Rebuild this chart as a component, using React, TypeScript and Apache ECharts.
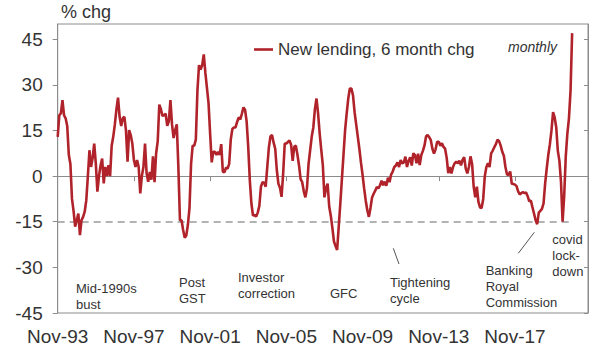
import React, { useEffect, useRef } from 'react';
import * as echarts from 'echarts';

const FONT = '"Liberation Sans", Arial, Helvetica, sans-serif';
const MONTH_NAMES = ['Jan', 'Feb', 'Mar', 'Apr', 'May', 'Jun', 'Jul', 'Aug', 'Sep', 'Oct', 'Nov', 'Dec'];
const START_YEAR = 1993;
const START_MONTH = 10; // Nov
const N_CATEGORIES = 335; // Nov-93 .. Sep-21 (axis extent)

const categories: string[] = Array.from({ length: N_CATEGORIES }, (_, i) => {
  const t = START_MONTH + i;
  const y = START_YEAR + Math.floor(t / 12);
  return MONTH_NAMES[t % 12] + '-' + String(y % 100).padStart(2, '0');
});

// New lending, 6 month % change, monthly from Nov-93
const newLending: number[] = [
  12.9, 20, 20.6, 25, 20, 19, 16.5, 7, 4, -7.5,
  -11.5, -16.6, -14.5, -12.3, -19.4, -14.5, -13.4, -11.7, -8, 0,
  8.5, 3, 6, 10.7, 4.2, -5.1, 0, 3.5, 5.8, -2.4,
  3, 0, 3.6, 0, 10, 13, 17, 22, 25.8, 19.5,
  16.5, 19, 19.5, 15, 4.7, 15.1, 13.5, 10.7, 5.3, 3,
  5.3, 3, -5.7, 0, 3,
  10.7, 0.9, -1.9, 1.4, -1.2, 6.5, -2, 7.5, 11.5, 23.5,
  22, 19.8, 20, 20.5, 16.5, 18, 25, 17, 12.5, 15.1,
  17, 3, -14.5, -14.5, -17.7, -20.3, -19.5, -16, -10.5, 4,
  10, 10, 12, 28, 36.5, 35, 36.5, 40, 34, 29,
  24, 14, 4.5, 8, 8, 7, 8, 7, 10.5, 1.5,
  1.2, 2.8, 2.5, 4, 12, 15.5, 16,
  16, 17.8, 19.3, 18.6, 20.5, 22.6, 21.8, 18, 9.6, -1.3,
  -9, -13, -12.8, -13.3, -12, -9.8, -3.5, -2, -2.2, -3.5,
  3, 9.4, 13, 13.5, 11, 9, 2, -2.5, -3.8, -6.8,
  0.9, 10.7, 10.7, 11.2, 11.7, 10.3, 5, 9.7, 10, 7,
  3.5, -1, -2, -5, -7, -4, 4, 8.5, 13, 16,
  22, 25.5, 20.6, 14, 8.6, 3.5, -7,
  -4, -2.5, -10, -13, -17, -21.5, -23, -24.3, -16.6, -9,
  -1, 7, 15, 20.5, 25.5, 28.8, 28.8, 26.5, 21, 17,
  13, 9, 4.5, 0.5, -4, -8, -11.2, -13.4, -10.5, -7,
  -5.8, -4.8, -3.6, -4, -3, -1.5, -3, -1.8, -3.2, -0.5,
  -2, 0.5, 1.5, 3, 3.5, 4.5, 3, 5.3, 4.2, 4.5,
  6.4, 3, 5, 6.2, 3.5, 7.5,
  6.9, 4.2, 7.4, 3.6, 6.9, 8.3, 10, 13, 13.5, 12.8,
  11.8, 9, 7.4, 8.8, 11.3, 11.3, 10, 10.8, 9.6, 9,
  6, 1, 3, 0.9, 3, 4.2, 4.7, 4.2, 5.1, 3.5,
  5.3, 6.2, 2.5, 0.9, 3, 6.5, 4, -3.5, -7, -3.5,
  -8.5, -10.3, -10.5, -7.5, 0, 3, 4.2, 3, 7.5, 8.4,
  9.5, 10.5, 12, 11.5, 10, 8, 6.7,
  3, 0.5, 0.5, 1.5, -2.5, -2.6, -2.8, -3.3, -5, -6,
  -5.6, -5.3, -5.6, -5.4, -6.6, -8.3, -8, -10.2, -12.3, -14.5,
  -15.8, -12, -11.4, -10.8, -9, -2.5, 2.5, 7, 10.5, 15,
  21, 19.3, 16, 8.3, 5, -2, -15, -6.5, 6.5, 14,
  19, 28, 47,
];

const yTicks = [-45, -30, -15, 0, 15, 30, 45];
const xTickEvery = 48; // Nov-93, Nov-97, ... Nov-17
const thresholdLevel = -15;
const thresholdEndIndex = 325;
const seriesName = 'New lending, 6 month chg';

export default function App() {
  const ref = useRef<HTMLDivElement>(null);

  useEffect(() => {
    if (!ref.current) return;
    const chart = echarts.init(ref.current, undefined, { renderer: 'svg' });
    const textColor = '#333333';
    const axisColor = '#8c8c8c';
    const lineColor = '#B0232A';
    const annStyle = (text: string) => ({
      text,
      fill: textColor,
      font: `13px ${FONT}`,
      lineHeight: 16,
      verticalAlign: 'top',
      align: 'left',
    });

    chart.setOption({
      animation: false,
      textStyle: { fontFamily: FONT },
      grid: {
        left: 57.7,
        right: 14,
        top: 24,
        bottom: 43,
        show: true,
        borderColor: axisColor,
        borderWidth: 1,
      },
      legend: {
        data: [{ name: seriesName, icon: 'rect' }],
        left: 249,
        top: 36,
        itemWidth: 19,
        itemHeight: 2.6,
        itemStyle: { color: lineColor },
        textStyle: { fontSize: 17, color: textColor, fontFamily: FONT },
      },
      xAxis: {
        type: 'category',
        data: categories,
        boundaryGap: false,
        axisLine: { show: true, lineStyle: { color: axisColor, width: 1 } },
        axisTick: {
          show: true,
          length: 5,
          interval: (i: number) => i % xTickEvery === 0,
          lineStyle: { color: axisColor },
        },
        axisLabel: {
          interval: (i: number) => i % xTickEvery === 0,
          fontSize: 19,
          color: textColor,
          margin: 14,
          fontFamily: FONT,
        },
        splitLine: { show: false },
      },
      yAxis: [
        {
          type: 'value',
          min: -45,
          max: 50,
          interval: 15,
          axisLine: { show: true, lineStyle: { color: axisColor, width: 1 } },
          axisTick: { show: true, length: 5, customValues: yTicks, lineStyle: { color: axisColor } },
          axisLabel: {
            customValues: yTicks,
            fontSize: 19,
            color: textColor,
            margin: 15,
            fontFamily: FONT,
          },
          splitLine: { show: false },
        },
        {
          type: 'value',
          position: 'right',
          min: -45,
          max: 50,
          interval: 15,
          axisLine: { show: true, lineStyle: { color: axisColor, width: 1 } },
          axisTick: { show: true, inside: true, length: 4, customValues: yTicks, lineStyle: { color: axisColor } },
          axisLabel: { show: false },
          splitLine: { show: false },
        },
      ],
      series: [
        {
          name: seriesName,
          type: 'line',
          data: newLending,
          symbol: 'none',
          showSymbol: false,
          lineStyle: { color: lineColor, width: 2.6 },
          itemStyle: { color: lineColor },
          z: 5,
          markLine: {
            silent: true,
            symbol: 'none',
            label: { show: false },
            animation: false,
            data: [
              { yAxis: 0, lineStyle: { type: 'solid', color: axisColor, width: 1 } },
              [
                { coord: [categories[0], thresholdLevel], lineStyle: { type: [7, 5], color: '#9a9a9a', width: 1.5 } },
                { coord: [categories[thresholdEndIndex], thresholdLevel] },
              ],
            ],
          },
        },
      ],
      graphic: [
        { type: 'text', x: 61, y: 3, style: { text: '% chg', fill: textColor, font: `18px ${FONT}`, verticalAlign: 'top' } },
        { type: 'text', x: 508, y: 40, style: { text: 'monthly', fill: textColor, font: `italic 14px ${FONT}`, verticalAlign: 'top' } },
        { type: 'text', x: 76, y: 280, style: annStyle('Mid-1990s\nbust') },
        { type: 'text', x: 179, y: 274, style: annStyle('Post\nGST') },
        { type: 'text', x: 238, y: 269, style: annStyle('Investor\ncorrection') },
        { type: 'text', x: 330, y: 285, style: annStyle('GFC') },
        { type: 'text', x: 390, y: 274, style: annStyle('Tightening\ncycle') },
        { type: 'text', x: 485.7, y: 262, style: annStyle('Banking\nRoyal\nCommission') },
        { type: 'text', x: 552.3, y: 231, style: annStyle('covid\nlock-\ndown') },
        { type: 'line', shape: { x1: 393.3, y1: 248.3, x2: 399, y2: 264 }, style: { stroke: '#555', lineWidth: 1 } },
        { type: 'line', shape: { x1: 534.3, y1: 232.3, x2: 518.3, y2: 253.3 }, style: { stroke: '#555', lineWidth: 1 } },
      ],
    });

    return () => chart.dispose();
  }, []);

  return (
    <div
      ref={ref}
      style={{ position: 'absolute', left: 0, top: 0, width: 602, height: 356, background: '#fff' }}
    />
  );
}
